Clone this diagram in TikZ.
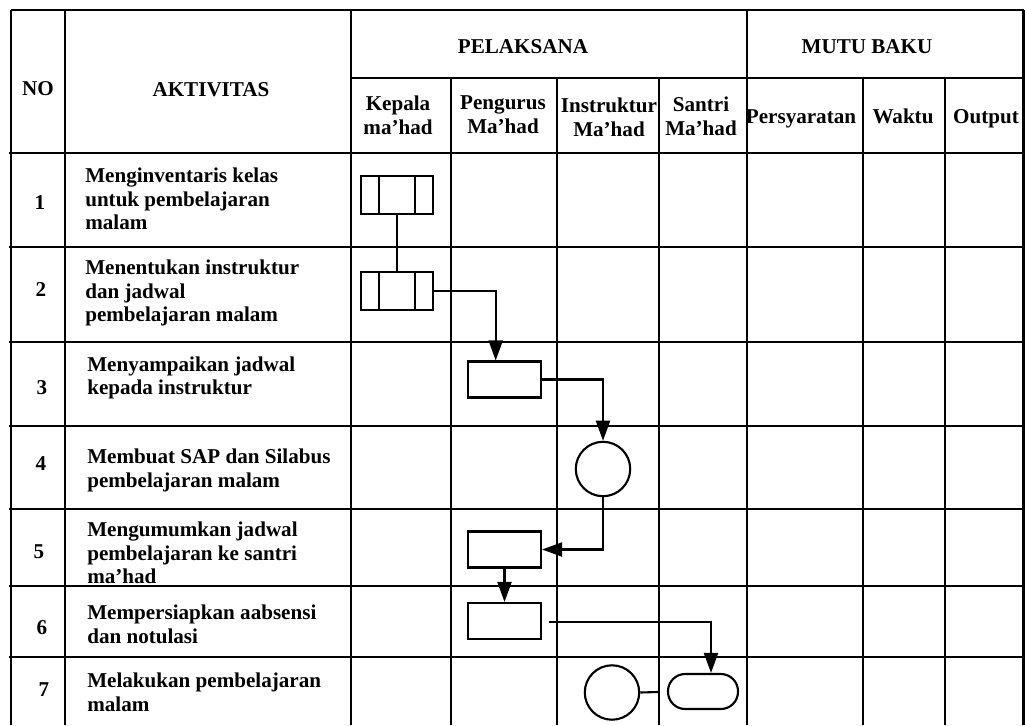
\documentclass[tikz,border=0pt]{standalone}
\usepackage{fontspec}
\setmainfont{Liberation Serif}
\usetikzlibrary{arrows.meta}

\begin{document}
\begin{tikzpicture}[
  x=0.025cm, y=-0.025cm,
  grid/.style={line width=1.5pt},
  txt/.style={font=\fontsize{15}{16.9}\selectfont\bfseries, inner sep=0pt},
  act/.style={txt, anchor=west, align=left},
  hd/.style={txt, align=center},
  box/.style={draw, line width=1.5pt, minimum width=1.825cm,
              minimum height=0.9cm, inner sep=0pt},
  proc/.style={box, minimum width=1.8cm, minimum height=0.95cm,
    path picture={\draw[line width=1.5pt]
      ([xshift=0.45cm]path picture bounding box.north west) --
      ([xshift=0.45cm]path picture bounding box.south west)
      ([xshift=-0.45cm]path picture bounding box.north east) --
      ([xshift=-0.45cm]path picture bounding box.south east);}},
  sirk/.style={draw, circle, line width=1.5pt, minimum size=1.36cm, inner sep=0pt},
  term/.style={box, minimum width=1.75cm, minimum height=0.875cm,
               rounded corners=0.43cm},
  line/.style={line width=1.5pt, -{Triangle[length=0.5cm,width=0.35cm]}}
]
\useasboundingbox (0,0) rectangle (1025,725);

% table grid
\draw[grid] (11,10) -- (1023.5,10);
\draw[grid] (351,78) -- (1023.5,78);
\foreach \y in {153,247,342,426,509,586,657}
  \draw[grid] (9,\y) -- (1023.5,\y);
\foreach \x in {11,65,351,747,1023.5}
  \draw[grid] (\x,10) -- (\x,725);
\foreach \x in {451,557,659,863,945}
  \draw[grid] (\x,78) -- (\x,725);

% header
\node[hd] (no)   at (38,89)   {NO};
\node[hd] (akt)  at (211,90)  {AKTIVITAS};
\node[hd] (pel)  at (523,47)  {PELAKSANA};
\node[hd] (mutu) at (867,47)  {MUTU BAKU};
\node[hd] (kep)  at (398,115) {Kepala\\ma'had};
\node[hd] (pen)  at (503,115) {Pengurus\\Ma'had};
\node[hd] (ins)  at (609,117) {Instruktur\\Ma'had};
\node[hd] (san)  at (701,116) {Santri\\Ma'had};
\node[hd, anchor=base] (per) at (801,123) {Persyaratan};
\node[hd, anchor=base] (wak) at (903,123) {Waktu};
\node[hd, anchor=base] (out) at (986,123) {Output};

% rows
\node[hd] (n1) at (40,203) {1};
\node[hd] (n2) at (41,290) {2};
\node[hd] (n3) at (42,388) {3};
\node[hd] (n4) at (41,464) {4};
\node[hd] (n5) at (39,552) {5};
\node[hd] (n6) at (42,628) {6};
\node[hd] (n7) at (44,690) {7};
\node[act] (a1) at (85,199)   {Menginventaris kelas\\untuk pembelajaran\\malam};
\node[act] (a2) at (85,293)   {Menentukan instruktur\\dan jadwal\\pembelajaran malam};
\node[act] (a3) at (87,378)   {Menyampaikan jadwal\\kepada instruktur};
\node[act] (a4) at (87,470.5) {Membuat SAP dan Silabus\\pembelajaran malam};
\node[act] (a5) at (87,553)   {Mengumumkan jadwal\\pembelajaran ke santri\\ma'had};
\node[act] (a6) at (87,624.5) {Mempersiapkan aabsensi\\dan notulasi};
\node[act] (a7) at (87,692.5) {Melakukan pembelajaran\\malam};

% flow
\node[proc] (p1) at (397,195)     {};
\node[proc] (p2) at (397,291)     {};
\node[box]  (b3) at (504.5,379.5) {};
\node[sirk] (c4) at (603,469)     {};
\node[box]  (b5) at (504.5,549.5) {};
\node[box]  (b6) at (504.5,621)   {};
\node[sirk] (c7) at (612,692.5)   {};
\node[term] (t7) at (703,691.5)   {};
\coordinate (s6) at (549,622);
\coordinate (e7) at (658,692);

\draw[line width=1.5pt] (p1) -- (p2);
\draw[line] (p2.east) -| ([xshift=-0.22cm]b3.north);
\draw[line] (b3.east) -| (c4.north);
\draw[line] (c4.south) |- (b5.east);
\draw[line] (b5) -- (b6);
\draw[line] (s6) -| ([xshift=0.2cm]t7.north);
\draw[line width=1.5pt] (c7.east) -- (e7);
\end{tikzpicture}
\end{document}
